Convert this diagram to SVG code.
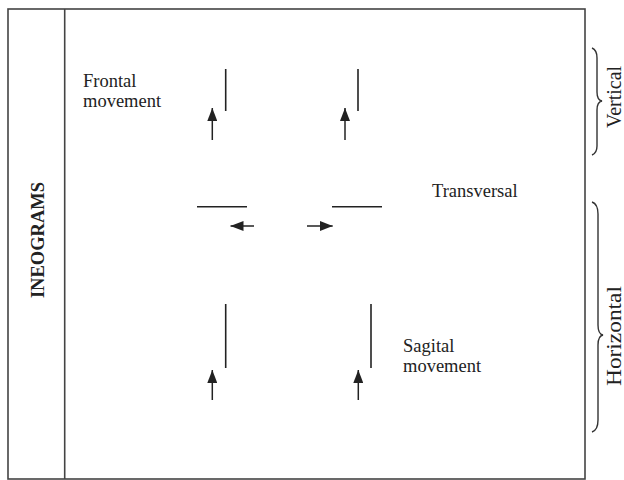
<svg xmlns="http://www.w3.org/2000/svg" width="624" height="480" viewBox="0 0 624 480">
<style>
.t{font-family:"Liberation Serif","Times New Roman",serif;font-size:18.5px;fill:#222}
.b{font-weight:bold}
.bar{stroke:#222;stroke-width:1.6}
.arr{stroke:#222;stroke-width:1.5;marker-end:url(#ah)}
.br{fill:none;stroke:#333;stroke-width:1.4}
</style>
<defs>
<marker id="ah" markerWidth="13" markerHeight="10" refX="13" refY="5" orient="auto" markerUnits="userSpaceOnUse" viewBox="0 0 13 10">
<path d="M0,0 L13,5 L0,10 Z" fill="#222"/>
</marker>
</defs>
<g id="frame">
<rect x="8" y="9" width="577" height="470" fill="none" stroke="#444" stroke-width="1.6"/>
<line x1="64.7" y1="9" x2="64.7" y2="479" stroke="#444" stroke-width="1.6"/>
</g>
<g id="title">
<text class="t b" transform="translate(44,240) rotate(-90)" text-anchor="middle">INEOGRAMS</text>
</g>
<g id="frontal">
<text class="t" x="83" y="87">Frontal</text>
<text class="t" x="83" y="107">movement</text>
<line class="bar" x1="225.7" y1="69" x2="225.7" y2="111"/>
<line class="bar" x1="358" y1="69" x2="358" y2="111"/>
</g>
<g id="transversal">
<text class="t" x="432" y="197">Transversal</text>
<line class="bar" x1="197" y1="206.7" x2="247" y2="206.7"/>
<line class="bar" x1="332" y1="206.7" x2="382" y2="206.7"/>
</g>
<g id="sagital">
<text class="t" x="403" y="352">Sagital</text>
<text class="t" x="403" y="372">movement</text>
<line class="bar" x1="225.7" y1="304" x2="225.7" y2="368"/>
<line class="bar" x1="371" y1="304" x2="371" y2="368"/>
</g>
<g id="connectors">
<line class="arr" x1="212.3" y1="140" x2="212.3" y2="108"/>
<line class="arr" x1="345" y1="140" x2="345" y2="108"/>
<line class="arr" x1="254" y1="226" x2="230.5" y2="226"/>
<line class="arr" x1="307" y1="226" x2="332.7" y2="226"/>
<line class="arr" x1="212.3" y1="400" x2="212.3" y2="370"/>
<line class="arr" x1="358.3" y1="400" x2="358.3" y2="370"/>
</g>
<g id="vertical">
<path class="br" d="M592,48 Q597,50 597,58 L597,92 Q597,100 602,101 Q597,102 597,110 L597,146 Q597,153 592,155"/>
<text class="t" transform="translate(621,97) rotate(-90)" text-anchor="middle" style="font-size:20px">Vertical</text>
</g>
<g id="horizontal">
<path class="br" d="M592,202 Q598,204 598,214 L598,325 Q598,334 603,335 Q598,336 598,345 L598,420 Q598,430 592,432"/>
<text class="t" transform="translate(621,336) rotate(-90)" text-anchor="middle" style="font-size:20px" textLength="100" lengthAdjust="spacingAndGlyphs">Horizontal</text>
</g>
</svg>
